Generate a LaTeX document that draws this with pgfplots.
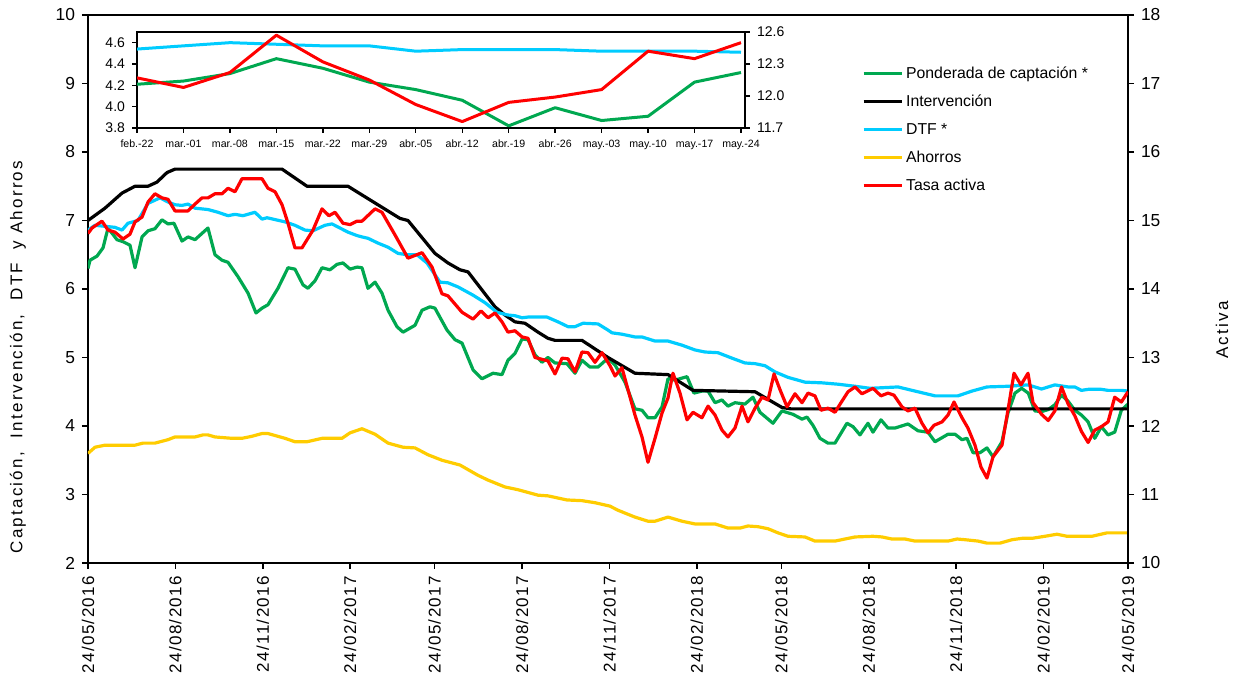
\documentclass[border=0pt]{standalone}
\usepackage{fontspec}
\setmainfont{Liberation Sans}
\newfontfamily\spacedfont[LetterSpace=13]{Liberation Sans}
\newfontfamily\datefont[LetterSpace=8]{Liberation Sans}
\usepackage{pgfplots}
\pgfplotsset{compat=1.18}
\definecolor{cGreen}{RGB}{0,168,80}
\definecolor{cCyan}{RGB}{0,204,255}
\definecolor{cYellow}{RGB}{255,204,0}
\definecolor{cRed}{RGB}{255,0,0}

\pgfplotstableread{
d v
0 6.30
2.1 6.42
9.5 6.48
15.8 6.60
21.1 6.89
30.5 6.72
36.9 6.69
44.2 6.64
49.5 6.31
56.9 6.76
63.2 6.85
70.5 6.88
77.9 7.01
84.2 6.95
90.5 6.96
99 6.70
105.3 6.76
112.7 6.72
126.3 6.89
133.7 6.50
141.1 6.42
147.4 6.39
157.9 6.18
168.5 5.94
176.9 5.65
183.2 5.72
189.5 5.77
200 6.01
210.6 6.31
217.9 6.29
226.4 6.06
231.6 6.01
239 6.12
246.4 6.31
254.8 6.28
262.2 6.36
268.5 6.38
275.9 6.29
283.2 6.32
288.5 6.31
294.8 6.01
302.2 6.10
309.5 5.94
315.9 5.69
325.3 5.45
331.7 5.37
344.3 5.47
351.7 5.69
360.1 5.74
365.3 5.72
378 5.40
386.4 5.26
393.8 5.21
405.4 4.82
414.8 4.69
426.4 4.77
435.9 4.75
442.2 4.96
449.6 5.06
457 5.27
463.3 5.26
470.6 5.04
478 4.93
484.3 5.00
491.7 4.92
504.3 4.91
512.8 4.77
520.1 4.96
528.5 4.86
537 4.86
547.5 4.99
554.9 4.89
565.4 4.64
575.9 4.25
583.3 4.23
589.6 4.12
597 4.12
604.4 4.28
610.7 4.69
618 4.67
630.7 4.72
638 4.48
646.4 4.51
652.8 4.51
660.2 4.34
667.5 4.38
673.8 4.29
681.2 4.34
691.7 4.32
700.1 4.42
707.5 4.20
721.2 4.04
730.7 4.22
742.3 4.17
751.8 4.10
757 4.13
763.3 4.01
770.7 3.82
779.1 3.75
786.5 3.75
799.1 4.04
805.5 3.99
812.8 3.87
821.2 4.04
826.5 3.91
834.9 4.09
842.3 3.97
849.7 3.97
863.4 4.03
873.9 3.93
884.4 3.91
891.8 3.77
905.5 3.88
912.9 3.88
920.2 3.80
925.5 3.82
931.8 3.61
939.2 3.61
946.5 3.68
952.9 3.55
962.3 3.77
968.6 4.19
976 4.48
983 4.55
990 4.48
997 4.22
1004 4.21
1011 4.24
1018 4.31
1025 4.45
1032 4.36
1039 4.23
1046 4.16
1053 4.06
1060 3.82
1067 3.99
1074 3.87
1081 3.91
1088 4.23
1095 4.32
}\tblGreen

\pgfplotstableread{
d v
0 7.00
17.9 7.18
35.8 7.40
49.5 7.50
63.2 7.50
72.6 7.56
83.2 7.70
91.6 7.75
204.3 7.75
230.6 7.50
273.7 7.50
328.5 7.03
336.9 7.00
365.3 6.52
379 6.38
391.7 6.28
400.1 6.25
428.5 5.74
439 5.62
449.6 5.52
460.1 5.50
473.8 5.37
484.3 5.28
491.7 5.25
520.1 5.25
547.5 5.00
575.9 4.77
610.7 4.75
637 4.52
702.3 4.50
730.7 4.27
740 4.25
1095 4.25
}\tblBlack

\pgfplotstableread{
d v
0 6.86
7.4 6.93
28.4 6.90
35.8 6.86
42.1 6.96
52.6 7.00
63.2 7.25
75.8 7.33
84.2 7.27
91.6 7.23
99 7.22
105.3 7.24
112.7 7.18
126.3 7.16
136.9 7.12
147.4 7.07
154.8 7.09
163.2 7.07
175.8 7.12
183.2 7.02
188.5 7.04
207.4 6.98
217.9 6.93
228.5 6.86
236.9 6.85
249.5 6.93
256.9 6.95
273.7 6.83
283.2 6.78
288.5 6.76
294.8 6.74
305.3 6.67
315.9 6.61
326.4 6.52
335.9 6.50
346.4 6.50
356.9 6.38
370.6 6.10
379 6.09
389.6 6.03
405.4 5.91
418 5.80
430.6 5.66
442.2 5.62
449.6 5.61
457 5.58
463.3 5.59
483.3 5.59
494.9 5.52
505.4 5.45
512.8 5.45
521.2 5.50
537 5.49
547.5 5.40
551.7 5.36
562.2 5.34
575.9 5.30
583.3 5.30
597 5.24
610.7 5.24
625.4 5.18
639.1 5.11
649.6 5.08
663.3 5.07
678.1 4.99
691.7 4.92
702.3 4.91
712.8 4.88
723.3 4.79
737 4.71
754.9 4.64
772.8 4.63
789.7 4.61
807.6 4.58
823.4 4.55
852.8 4.57
870.7 4.51
891.8 4.44
916 4.44
930.8 4.51
946.5 4.57
968.6 4.58
989.7 4.60
1004 4.54
1011 4.57
1018 4.60
1025 4.585
1032 4.57
1039 4.57
1046 4.52
1053 4.535
1060 4.535
1067 4.535
1074 4.52
1081 4.52
1088 4.52
1095 4.51
}\tblCyan

\pgfplotstableread{
d v
0 3.60
7.4 3.69
17.9 3.72
49.5 3.72
57.9 3.75
70.5 3.75
84.2 3.80
91.6 3.84
112.7 3.84
121.1 3.87
126.3 3.87
133.7 3.84
151.6 3.82
162.1 3.82
172.7 3.85
183.2 3.89
189.5 3.89
207.4 3.82
217.9 3.77
230.6 3.77
246.4 3.82
267.4 3.82
275.9 3.90
288.5 3.96
302.2 3.88
315.9 3.75
331.7 3.69
344.3 3.68
358 3.58
372.7 3.50
391.7 3.43
410.6 3.28
421.2 3.21
439 3.11
452.7 3.07
473.8 2.99
484.3 2.98
504.3 2.92
520.1 2.91
533.8 2.88
549.6 2.83
558 2.77
575.9 2.67
589.6 2.61
597 2.61
610.7 2.67
625.4 2.61
639.1 2.57
660.2 2.57
673.8 2.51
686.5 2.51
694.9 2.54
705.4 2.53
716 2.50
726.5 2.44
737 2.39
754.9 2.38
765.4 2.32
786.5 2.32
797 2.35
807.6 2.38
826.5 2.39
836 2.38
846.5 2.35
860.2 2.35
870.7 2.32
905.5 2.32
915 2.35
923.4 2.34
937.1 2.32
946.5 2.29
960.2 2.29
972.9 2.34
983.4 2.36
993.9 2.36
1007.6 2.39
1020.2 2.42
1030.8 2.39
1057.1 2.39
1072.9 2.44
1095 2.44
}\tblYellow

\pgfplotstableread{
d v
0 14.81
4.2 14.89
14.7 14.99
21.1 14.86
28.4 14.83
36.9 14.73
44.2 14.80
49.5 14.98
56.9 15.05
63.2 15.27
70.5 15.39
77.9 15.33
84.2 15.31
91.6 15.14
105.3 15.14
112.7 15.24
120 15.33
126.3 15.33
133.7 15.39
141.1 15.39
147.4 15.47
154.8 15.42
162.1 15.61
183.2 15.61
189.5 15.47
196.9 15.42
204.3 15.23
210.6 14.96
217.9 14.60
225.3 14.60
236.9 14.86
246.4 15.17
253.7 15.07
260.1 15.12
268.5 14.96
275.9 14.94
283.2 14.99
288.5 14.99
302.2 15.17
309.5 15.12
323.2 14.79
336.9 14.45
351.7 14.53
362.2 14.32
372.7 13.93
379 13.90
393.8 13.66
405.4 13.56
413.8 13.68
421.2 13.58
428.5 13.65
435.9 13.52
442.2 13.37
449.6 13.39
457 13.30
463.3 13.28
470.6 13.00
484.3 12.95
491.7 12.76
499.1 12.99
505.4 12.98
512.8 12.79
520.1 13.08
526.4 13.07
533.8 12.93
541.2 13.07
549.6 12.88
554.9 12.73
562.2 12.85
575.9 12.16
583.3 11.84
589.6 11.47
597 11.82
604.4 12.19
610.7 12.41
615.9 12.77
623.3 12.48
630.7 12.09
637 12.20
646.4 12.12
652.8 12.29
660.2 12.16
667.5 11.94
673.8 11.84
681.2 11.97
688.6 12.29
694.9 12.06
702.3 12.26
709.6 12.42
716 12.38
722.3 12.76
728.6 12.53
736 12.28
744.4 12.47
751.8 12.34
758.1 12.48
765.4 12.44
771.8 12.23
779.1 12.26
786.5 12.20
792.8 12.34
800.2 12.50
807.6 12.57
814.9 12.47
826.5 12.55
834.9 12.44
842.3 12.48
848.6 12.45
857 12.28
863.4 12.22
870.7 12.26
878.1 12.04
884.4 11.90
890.7 12.01
899.2 12.06
905.5 12.16
911.8 12.35
920.2 12.12
926.5 11.97
933.9 11.72
940.2 11.40
946.5 11.24
952.9 11.55
962.3 11.72
968.6 12.23
975 12.77
982.3 12.60
989.7 12.77
995 12.34
1004 12.17
1011 12.08
1018 12.22
1025 12.57
1032 12.32
1039 12.15
1046 11.92
1053 11.76
1060 11.94
1067 11.99
1074 12.06
1081 12.42
1088 12.35
1095 12.50
}\tblRed

\pgfplotstableread{
i g c r
0 4.21 4.54 12.17
1 4.24 4.57 12.08
2 4.31 4.60 12.22
3 4.45 4.585 12.57
4 4.36 4.57 12.32
5 4.23 4.57 12.15
6 4.16 4.52 11.92
7 4.06 4.535 11.76
8 3.82 4.535 11.94
9 3.99 4.535 11.99
10 3.87 4.52 12.06
11 3.91 4.52 12.42
12 4.23 4.52 12.35
13 4.32 4.51 12.50
}\tblInset

\begin{document}
\begin{tikzpicture}
\useasboundingbox (0,0) rectangle (619.5pt,339.5pt);
\pgfplotsset{
  mainaxis/.style={scale only axis, width=520pt, height=274pt,
    at={(44pt,58pt)}, anchor=south west, xmin=0, xmax=1095,
    axis line style={line width=0.9pt},
    tick style={line width=0.8pt, black}, major tick length=3pt,
    tick align=outside,
    /pgf/number format/assume math mode=true,
    ticklabel style={font=\fontsize{8.7}{10}\selectfont}},
  insetaxis/.style={scale only axis, width=304pt, height=48pt,
    at={(68.5pt,275.5pt)}, anchor=south west, xmin=0, xmax=13.086,
    axis line style={line width=0.8pt},
    tick style={line width=0.7pt, black}, major tick length=2.5pt,
    tick align=outside,
    /pgf/number format/assume math mode=true,
    /pgf/number format/.cd, fixed, fixed zerofill, precision=1, /pgfplots/.cd,
    yticklabel style={font=\fontsize{7}{8}\selectfont},
    xticklabel style={font=\fontsize{5.3}{6}\selectfont}},
  lw/.style={line width=1.6pt, line join=round},
}
% main left axis
\begin{axis}[mainaxis, ymin=2, ymax=10, ytick={2,...,10},
  ytick pos=left, xtick pos=bottom,
  xtick={0,92,184,276,365,457,549,641,730,822,914,1006,1095},
  xticklabels={24/05/2016,24/08/2016,24/11/2016,24/02/2017,24/05/2017,24/08/2017,24/11/2017,24/02/2018,24/05/2018,24/08/2018,24/11/2018,24/02/2019,24/05/2019},
  xticklabel style={rotate=90, anchor=east, font=\datefont\fontsize{8.5}{10}\selectfont},
  legend style={draw=none, fill=none, at={(0.738,0.918)}, anchor=north west,
    font=\fontsize{7.9}{9}\selectfont, row sep=5pt,
    nodes={inner sep=0pt, text height=7pt, text depth=2pt},
    legend cell align=left},
  legend image code/.code={\draw[#1] (0pt,0pt) -- (19pt,0pt);},
  ]
\addplot[lw, cGreen] table[x=d,y=v] {\tblGreen};
\addlegendentry{\hspace{1.5pt}Ponderada de captación *}
\addplot[lw, black] table[x=d,y=v] {\tblBlack};
\addlegendentry{\hspace{1.5pt}Intervención}
\addplot[lw, cCyan] table[x=d,y=v] {\tblCyan};
\addlegendentry{\hspace{1.5pt}DTF *}
\addplot[lw, cYellow] table[x=d,y=v] {\tblYellow};
\addlegendentry{\hspace{1.5pt}Ahorros}
\addlegendimage{lw, cRed}
\addlegendentry{\hspace{1.5pt}Tasa activa}
\end{axis}
% main right axis
\begin{axis}[mainaxis, ymin=10, ymax=18, ytick={10,...,18},
  axis x line=none, axis y line*=right]
\addplot[lw, cRed] table[x=d,y=v] {\tblRed};
\end{axis}
% inset left axis
\begin{axis}[insetaxis, ymin=3.8, ymax=4.7, ytick={3.8,4.0,4.2,4.4,4.6},
  ytick pos=left, xtick pos=bottom, axis background/.style={fill=white},
  xtick={0,...,13},
  xticklabels={feb.-22,mar.-01,mar.-08,mar.-15,mar.-22,mar.-29,abr.-05,abr.-12,abr.-19,abr.-26,may.-03,may.-10,may.-17,may.-24}]
\addplot[lw, line width=1.5pt, cCyan] table[x=i,y=c] {\tblInset};
\addplot[lw, line width=1.5pt, cGreen] table[x=i,y=g] {\tblInset};
\end{axis}
\begin{axis}[insetaxis, ymin=11.7, ymax=12.6, ytick={11.7,12.0,12.3,12.6},
  axis x line=none, axis y line*=right]
\addplot[lw, line width=1.5pt, cRed] table[x=i,y=r] {\tblInset};
\end{axis}
% axis titles
\node[rotate=90, font=\spacedfont\fontsize{8.5}{10}\selectfont] at (9pt,161pt) {Captación,\ \ Intervención,\ \ DTF\ \ y Ahorros};
\node[rotate=90, font=\spacedfont\fontsize{8.5}{10}\selectfont] at (611pt,174.5pt) {Activa};
\end{tikzpicture}
\end{document}
